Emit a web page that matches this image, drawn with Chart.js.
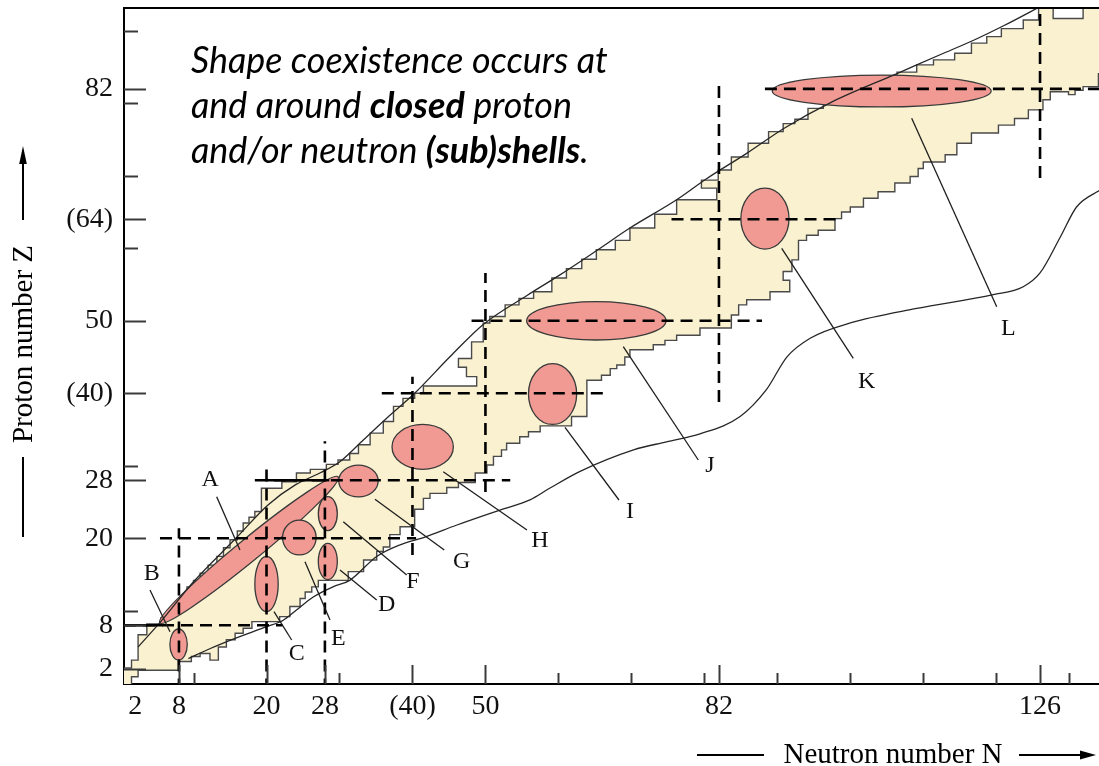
<!DOCTYPE html>
<html>
<head>
<meta charset="utf-8">
<title>Shape coexistence on the chart of nuclides</title>
<script src="https://cdn.jsdelivr.net/npm/chart.js@4.4.1/dist/chart.umd.min.js"></script>
<style>
  html, body { margin: 0; padding: 0; background: #ffffff; overflow: hidden; }
  canvas { display: block; }
</style>
</head>
<body>
<canvas id="chart" width="1099" height="766" style="width:1099px;height:766px"></canvas>
<script>
// ---- Axis tick values and labels -------------------------------------------
const nAxisTickValues = [2, 8, 20, 28, 40, 50, 82, 126];
const nAxisTickText   = ['2', '8', '20', '28', '(40)', '50', '82', '126'];
const zAxisTickValues = [2, 8, 20, 28, 40, 50, 64, 82];
const zAxisTickText   = ['2', '8', '20', '28', '(40)', '50', '(64)', '82'];
const nMajorMarks = [8, 20, 28, 40, 50, 82, 126];
const nMinorMarks = [10, 30, 60, 70, 80, 90, 100, 110, 120, 130];
const zMajorMarks = [2, 8, 20, 28, 40, 50, 64, 82];
const zMinorMarks = [10, 30, 60, 70, 80, 90];

// ---- Known nuclides: staircase edges, [N, Z] where each Z holds until the next N
const upperEdge = [
  [0.47, 2.1], [1.5, 3.2], [2.4, 6.7], [3.6, 8.2], [5.5, 9.0], [6.5, 10.0], [7.5, 11.0],
  [8.2, 11.9], [9.1, 13.3], [10.0, 14.2], [10.9, 15.2], [12.0, 16.3], [13.2, 17.5],
  [14.1, 18.7], [15.0, 19.8], [16.0, 21.0], [16.8, 22.1], [17.6, 22.9], [18.4, 23.7],
  [19.3, 26.9], [22.1, 27.8], [24.1, 29.0], [26.0, 29.5], [28.2, 30.2], [29.8, 30.8],
  [31.4, 31.7], [32.6, 32.9], [34.2, 34.5], [36.0, 36.1], [37.4, 38.2], [38.7, 39.3],
  [40.3, 40.0], [41.5, 41.0], [48.8, 42.3], [47.4, 43.6], [46.3, 44.8], [48.1, 47.1],
  [49.7, 49.7], [50.6, 50.6], [52.7, 52.2], [54.6, 53.1], [56.6, 54.0], [59.1, 55.9],
  [61.1, 57.2], [63.2, 58.5], [65.2, 59.8], [67.8, 61.1], [69.8, 62.8], [73.2, 64.7],
  [76.2, 66.7], [81.7, 68.3], [79.6, 69.4], [81.9, 70.8], [83.7, 72.6], [86.0, 74.5], [88.8, 76.1],
  [90.8, 77.2], [92.4, 77.8], [94.2, 79.3], [96.3, 80.0], [98.5, 80.8], [101.0, 81.8],
  [103.5, 82.8], [106.4, 84.3], [109.1, 85.3], [111.4, 86.0], [114.3, 86.9], [116.6, 88.3],
  [118.7, 89.2], [120.7, 90.3], [123.7, 91.5], [125.8, 94.0], [127.8, 91.7], [131.9, 94.0]
];
const lowerEdge = [
  [0.47, -1.0], [1.5, 0.9], [2.4, 1.8], [7.9, 3.0], [9.7, 3.7], [10.9, 4.1], [12.25, 3.2],
  [13.4, 5.0], [14.5, 6.0], [15.7, 6.9], [16.8, 7.6], [18.0, 8.5], [21.8, 9.2], [23.2, 10.6],
  [24.6, 11.7], [25.3, 12.6], [26.2, 13.3], [27.1, 14.2], [31.2, 15.4], [33.3, 17.0],
  [35.1, 18.2], [36.0, 18.8], [36.9, 20.5], [38.3, 21.6], [40.3, 24.0], [41.5, 25.5],
  [42.4, 26.2], [44.7, 27.0], [46.3, 27.7], [48.6, 29.0], [50.2, 30.1], [51.1, 31.3],
  [52.2, 32.2], [52.9, 33.1], [54.7, 34.0], [55.9, 34.7], [57.5, 35.5], [61.8, 36.8],
  [63.9, 41.8], [65.9, 42.5], [67.1, 43.4], [68.0, 43.9], [69.1, 45.0], [69.8, 46.0],
  [73.0, 46.7], [74.6, 47.3], [76.2, 48.0], [79.4, 49.0], [83.7, 50.8], [84.7, 52.2],
  [85.8, 52.9], [89.0, 54.0], [91.7, 55.6], [90.8, 56.8], [92.0, 58.4], [92.9, 61.1],
  [94.0, 61.8], [95.6, 62.5], [97.9, 64.1], [98.8, 65.0], [100.0, 65.7], [101.8, 66.9],
  [103.8, 67.8], [106.1, 69.0], [108.2, 69.9], [109.3, 71.0], [110.0, 71.9], [113.0, 72.9],
  [114.6, 74.5], [116.6, 75.9], [120.3, 77.0], [122.5, 77.9], [124.4, 79.1], [126.4, 80.5],
  [127.4, 81.6], [129.9, 81.2], [130.8, 81.8], [131.9, 82.3], [134.0, 84.1]
];
const edgeEndN = 136;

// ---- Drip lines ------------------------------------------------------------
const protonDripN = [2.4, 5.5, 10.0, 15.9, 20.2, 24.0, 27.3, 30.1, 33.3, 36.5, 40.3, 45.1, 49.7,
  55.7, 60.0, 65.4, 69.8, 76.2, 80.3, 85.8, 91.0, 97.5, 106.4, 112.3, 116.9, 121.0, 126.5];
const protonDripZ = [5.0, 8.5, 14.0, 20.1, 24.6, 27.4, 29.0, 30.6, 33.6, 36.6, 40.0, 45.0, 49.5,
  53.5, 56.2, 59.8, 62.8, 66.7, 69.6, 73.1, 76.6, 80.2, 84.1, 86.7, 88.7, 90.7, 93.6];
const neutronDripN = [9.3, 12.3, 15.7, 20.0, 22.3, 24.1, 26.4, 29.1, 31.4, 35.1, 38.3, 41.8, 46.0,
  52.0, 56.1, 58.8, 62.9, 70.3, 74.8, 79.4, 84.9, 88.5, 91.3, 94.5, 100.0, 109.1, 119.6, 123.7,
  126.0, 128.8, 131.0, 134.5];
const neutronDripZ = [3.4, 4.8, 6.2, 7.8, 8.7, 10.1, 11.9, 13.3, 14.2, 17.5, 19.1, 20.2, 21.8,
  23.9, 25.3, 26.9, 29.2, 32.2, 33.3, 34.4, 36.8, 40.5, 45.0, 47.6, 49.7, 51.7, 53.6, 54.7,
  56.6, 61.6, 65.7, 68.2];

// ---- Magic-number guide lines: value and the span they cover ----------------
const magicZ     = [8, 20, 28, 40, 50, 64, 82];
const magicZFrom = [0.47, 5.4, 18.4, 35.8, 48.1, 75.5, 88.3];
const magicZTo   = [22.2, 40.5, 53.4, 66.2, 87.9, 98.8, 136];
const magicN     = [8, 20, 28, 40, 50, 82, 126];
const magicNFrom = [-1, -1, -1, 17.7, 26.4, 38.8, 69.7];
const magicNTo   = [21.4, 29.7, 33.4, 42.3, 56.6, 82.5, 95];
const solidShellZ    = [8, 28];
const solidShellFrom = [0.47, 20.0];
const solidShellTo   = [5.8, 28.6];

// ---- Shape-coexistence regions: centre (N, Z), half widths, tilt in degrees --
const regionName  = ['A', 'B', 'C', 'D', 'E', 'F', 'G', 'H', 'I', 'J', 'K', 'L'];
const regionN     = [17.6, 7.95, 20.0, 28.4, 24.5, 28.4, 32.6, 41.4, 59.2, 65.2, 88.3, 104.3];
const regionZ     = [18.4, 5.35, 13.7, 16.8, 20.1, 23.4, 27.9, 32.6, 39.9, 50.0, 64.1, 81.7];
const regionHalfN = [15.8, 1.19, 1.6, 1.3, 2.3, 1.3, 2.7, 4.2, 3.3, 9.55, 3.3, 15.0];
const regionHalfZ = [1.55, 2.14, 3.8, 2.5, 2.4, 2.35, 2.2, 3.1, 4.2, 2.65, 4.2, 2.2];
const regionTilt  = [39.3, 0, 0, 0, 0, 0, 0, 0, 0, 0, 0, 0];

// Callout geometry for the region letters (N, Z)
const calloutFrom = [[13.17, 25.74], [4.03, 12.87], [21.02, 9.88], [30.07, 15.63], [25.27, 16.77],
  [30.52, 22.29], [34.86, 25.38], [44.22, 29.19], [60.90, 35.31], [68.89, 46.43], [90.60, 60.0],
  [108.41, 77.93]];
const calloutTo = [[16.36, 18.39], [6.77, 7.12], [23.45, 5.97], [35.10, 11.49], [28.70, 8.73],
  [39.21, 14.94], [44.36, 18.39], [55.69, 21.14], [68.30, 25.28], [79.17, 30.80], [100.41, 44.83],
  [120.06, 51.94]];
const calloutText = [[12.27, 28.04], [4.26, 15.17], [24.13, 4.14], [36.47, 10.80], [29.83, 6.21],
  [40.07, 13.97], [46.75, 16.77], [57.48, 19.63], [69.81, 23.63], [80.77, 29.97], [102.25, 41.56],
  [121.65, 48.87]];

// ---- Colours and fonts ------------------------------------------------------
const NUCLIDE_FILL = '#F9F1CF';
const NUCLIDE_EDGE = '#4a4a4a';
const REGION_FILL = '#F19A93';
const SERIF = '"Liberation Serif", "Times New Roman", serif';

// Build a closed outline of the nuclide band from the two staircases
function stairCorners(steps, endN) {
  const pts = [];
  steps.forEach(([n, z], i) => {
    const nextN = i + 1 < steps.length ? steps[i + 1][0] : endN;
    pts.push({ x: n, y: z }, { x: nextN, y: z });
  });
  return pts;
}
const bandOutline = stairCorners(upperEdge, edgeEndN)
  .concat(stairCorners(lowerEdge, edgeEndN).reverse());

const toXY = (ns, zs) => ns.map((n, i) => ({ x: n, y: zs[i] }));

const datasets = [
  {
    id: 'nuclides',
    data: bandOutline,
    showLine: true,
    fill: 'shape',
    backgroundColor: NUCLIDE_FILL,
    borderColor: NUCLIDE_EDGE,
    borderWidth: 1.4,
    borderJoinStyle: 'miter',
    pointRadius: 0,
    order: 3
  },
  {
    id: 'protonDrip',
    data: toXY(protonDripN, protonDripZ),
    showLine: true, fill: false,
    borderColor: '#262626', borderWidth: 1.3,
    cubicInterpolationMode: 'monotone',
    pointRadius: 0, order: 2
  },
  {
    id: 'neutronDrip',
    data: toXY(neutronDripN, neutronDripZ),
    showLine: true, fill: false,
    borderColor: '#262626', borderWidth: 1.3,
    cubicInterpolationMode: 'monotone',
    pointRadius: 0, order: 2
  }
];
magicZ.forEach((z, i) => datasets.push({
  id: 'shellZ' + z,
  data: [{ x: magicZFrom[i], y: z }, { x: magicZTo[i], y: z }],
  showLine: true, fill: false, borderColor: '#000', borderWidth: 2.6,
  borderDash: [12, 7], pointRadius: 0, order: 1
}));
magicN.forEach((n, i) => datasets.push({
  id: 'shellN' + n,
  data: [{ x: n, y: magicNFrom[i] }, { x: n, y: magicNTo[i] }],
  showLine: true, fill: false, borderColor: '#000', borderWidth: 2.6,
  borderDash: [12, 7], pointRadius: 0, order: 1
}));
solidShellZ.forEach((z, i) => datasets.push({
  id: 'closedZ' + z,
  data: [{ x: solidShellFrom[i], y: z }, { x: solidShellTo[i], y: z }],
  showLine: true, fill: false, borderColor: '#000', borderWidth: 2.6,
  pointRadius: 0, order: 1
}));

// Shape-coexistence ellipses, sitting on top of the nuclide band
function drawRegions(chart) {
  const { ctx, scales: { x, y } } = chart;
  const pxN = Math.abs(x.getPixelForValue(1) - x.getPixelForValue(0));
  const pxZ = Math.abs(y.getPixelForValue(0) - y.getPixelForValue(1));
  ctx.save();
  regionName.forEach((name, i) => {
    ctx.beginPath();
    ctx.ellipse(x.getPixelForValue(regionN[i]), y.getPixelForValue(regionZ[i]),
      regionHalfN[i] * pxN, regionHalfZ[i] * pxZ, -regionTilt[i] * Math.PI / 180, 0, Math.PI * 2);
    ctx.fillStyle = REGION_FILL;
    ctx.fill();
    ctx.lineWidth = 1.3;
    ctx.strokeStyle = '#3a3a3a';
    ctx.stroke();
  });
  ctx.restore();
}

function arrowHead(ctx, tipX, tipY, dx, dy, len, half) {
  const bx = tipX - dx * len, by = tipY - dy * len;
  ctx.beginPath();
  ctx.moveTo(tipX, tipY);
  ctx.lineTo(bx - dy * half, by + dx * half);
  ctx.lineTo(bx + dy * half, by - dx * half);
  ctx.closePath();
  ctx.fill();
}

const annotations = {
  id: 'annotations',
  afterDatasetDraw(chart, args) {
    if (chart.data.datasets[args.index].id === 'nuclides') drawRegions(chart);
  },
  afterDatasetsDraw(chart) {
    const { ctx, chartArea: area, scales: { x, y } } = chart;
    ctx.save();

    // top frame line
    ctx.strokeStyle = '#000';
    ctx.lineWidth = 2;
    ctx.beginPath();
    ctx.moveTo(area.left - 1, area.top);
    ctx.lineTo(area.right, area.top);
    ctx.stroke();

    // tick marks pointing into the plot
    ctx.strokeStyle = '#3a3a3a';
    ctx.lineWidth = 2;
    const markN = (vals, len) => vals.forEach(v => {
      const px = Math.round(x.getPixelForValue(v)) + 0.5;
      ctx.beginPath(); ctx.moveTo(px, area.bottom); ctx.lineTo(px, area.bottom - len); ctx.stroke();
    });
    const markZ = (vals, len) => vals.forEach(v => {
      const py = Math.round(y.getPixelForValue(v)) + 0.5;
      ctx.beginPath(); ctx.moveTo(area.left, py); ctx.lineTo(area.left + len, py); ctx.stroke();
    });
    markN(nMajorMarks, 19); markN(nMinorMarks, 11);
    markZ(zMajorMarks, 22); markZ(zMinorMarks, 14);

    // callout lines and letters
    ctx.strokeStyle = '#1e1e1e';
    ctx.lineWidth = 1.3;
    regionName.forEach((name, i) => {
      ctx.beginPath();
      ctx.moveTo(x.getPixelForValue(calloutFrom[i][0]), y.getPixelForValue(calloutFrom[i][1]));
      ctx.lineTo(x.getPixelForValue(calloutTo[i][0]), y.getPixelForValue(calloutTo[i][1]));
      ctx.stroke();
    });
    ctx.fillStyle = '#111';
    ctx.font = '24px ' + SERIF;
    ctx.textAlign = 'center';
    ctx.textBaseline = 'middle';
    regionName.forEach((name, i) => {
      ctx.fillText(name, x.getPixelForValue(calloutText[i][0]), y.getPixelForValue(calloutText[i][1]));
    });

    // statement in the upper left
    const noteLines = [
      [['Shape coexistence occurs at', false]],
      [['and around ', false], ['closed', true], [' proton', false]],
      [['and/or neutron ', false], ['(sub)shells', true], ['.', false]]
    ];
    const noteFamily = 'Lato, "Open Sans", sans-serif';
    ctx.font = 'italic 400 30px ' + noteFamily;
    const noteSize = 30 * 417 / ctx.measureText(noteLines[0][0][0]).width;
    const noteBase = [73, 118, 163];
    ctx.textAlign = 'left';
    ctx.textBaseline = 'alphabetic';
    ctx.fillStyle = '#000';
    noteLines.forEach((parts, li) => {
      let cx = 191;
      parts.forEach(([txt, bold]) => {
        ctx.font = `italic ${bold ? 700 : 400} ${noteSize}px ${noteFamily}`;
        ctx.fillText(txt, cx, noteBase[li]);
        cx += ctx.measureText(txt).width;
      });
    });

    // axis titles with arrows
    ctx.fillStyle = '#000';
    ctx.strokeStyle = '#000';
    ctx.lineWidth = 2;
    ctx.font = '29px ' + SERIF;
    ctx.textAlign = 'center';
    ctx.textBaseline = 'alphabetic';
    ctx.fillText('Neutron number N', 893, 763);
    ctx.beginPath(); ctx.moveTo(697, 755); ctx.lineTo(764, 755); ctx.stroke();
    ctx.beginPath(); ctx.moveTo(1019, 755); ctx.lineTo(1084, 755); ctx.stroke();
    arrowHead(ctx, 1096, 755, 1, 0, 16, 4.5);

    ctx.save();
    ctx.translate(32, 344);
    ctx.rotate(-Math.PI / 2);
    ctx.fillText('Proton number Z', 0, 0);
    ctx.restore();
    ctx.beginPath(); ctx.moveTo(23, 537); ctx.lineTo(23, 457); ctx.stroke();
    ctx.beginPath(); ctx.moveTo(23, 220); ctx.lineTo(23, 160); ctx.stroke();
    arrowHead(ctx, 23, 146, 0, -1, 18, 3.8);

    ctx.restore();
  }
};

// scales keep the plot frame fixed; labels may overhang into the margins
const noScalePadding = s => {
  s.paddingTop = 0; s.paddingBottom = 0; s.paddingLeft = 0; s.paddingRight = 0;
};

new Chart(document.getElementById('chart'), {
  type: 'scatter',
  data: { datasets },
  plugins: [annotations],
  options: {
    responsive: false,
    animation: false,
    events: [],
    layout: { padding: { top: 8, right: 0, bottom: 0, left: 0 } },
    plugins: { legend: { display: false }, tooltip: { enabled: false } },
    scales: {
      x: {
        type: 'linear', position: 'bottom', min: 0.47, max: 134.08,
        afterBuildTicks: s => { s.ticks = nAxisTickValues.map(v => ({ value: v })); },
        afterFit: s => { s.height = 82; noScalePadding(s); },
        grid: { display: false, drawTicks: false },
        border: { display: true, color: '#000', width: 2 },
        ticks: {
          autoSkip: false, maxRotation: 0, padding: 6, color: '#111',
          font: { family: SERIF, size: 28 },
          callback: v => nAxisTickText[nAxisTickValues.indexOf(v)] ?? ''
        }
      },
      y: {
        type: 'linear', position: 'left', min: -0.1, max: 93.15,
        afterBuildTicks: s => { s.ticks = zAxisTickValues.map(v => ({ value: v })); },
        afterFit: s => { s.width = 124; noScalePadding(s); },
        grid: { display: false, drawTicks: false },
        border: { display: true, color: '#000', width: 2 },
        ticks: {
          autoSkip: false, padding: 11, color: '#111',
          font: { family: SERIF, size: 28 },
          callback: v => zAxisTickText[zAxisTickValues.indexOf(v)] ?? ''
        }
      }
    }
  }
});
</script>
</body>
</html>
